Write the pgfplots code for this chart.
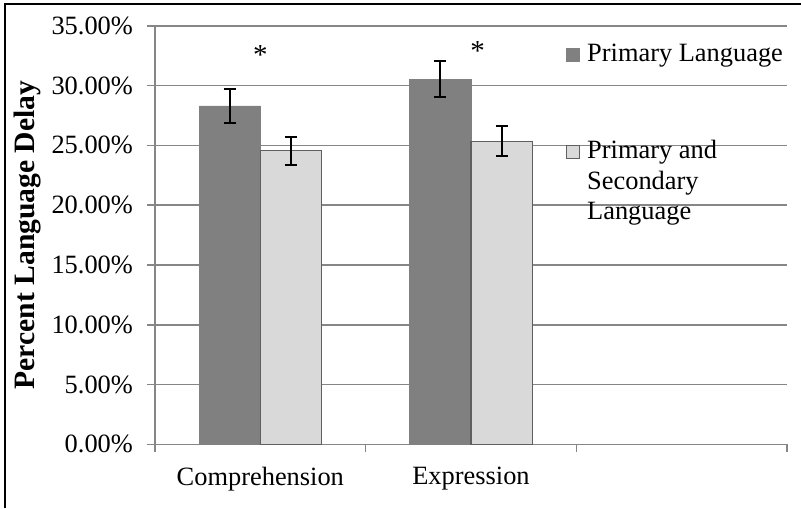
\documentclass[border=0pt]{standalone}
\usepackage{pgfplots}
\pgfplotsset{compat=1.18}
\usepackage{fontspec}
\setmainfont{Liberation Serif}
\definecolor{darkbar}{HTML}{808080}
\definecolor{lightbar}{HTML}{D9D9D9}
\definecolor{lightedge}{HTML}{5F5F5F}
\definecolor{gridgray}{HTML}{868686}
\begin{document}
\begin{tikzpicture}
\begin{axis}[
  name=a,
  scale only axis,
  width=316pt, height=209.3pt,
  xmin=-0.5, xmax=2.5, ymin=0, ymax=35,
  axis lines*=left,
  axis line style={gridgray, line width=0.8pt},
  ybar, bar width=0.291,
  xtick={-0.5,0.5,1.5,2.5}, xticklabels={},
  extra x ticks={0,1}, extra x tick labels={Comprehension,Expression},
  extra x tick style={major tick length=0pt, xticklabel style={yshift=-8pt}},
  ytick={0,5,...,35},
  yticklabel={\pgfmathprintnumber[fixed,fixed zerofill,precision=2]{\tick}\%},
  yticklabel style={xshift=-3.5pt},
  /pgf/number format/assume math mode=true,
  ymajorgrids, grid style={gridgray, line width=0.8pt},
  tick align=outside, major tick length=4pt,
  tick style={gridgray, line width=0.8pt},
  font=\fontsize{13.2}{15.3}\selectfont,
  ticklabel style={font=\fontsize{13.2}{15.3}\selectfont},
  ylabel={Percent Language Delay},
  ylabel style={font=\fontsize{14.8}{17}\selectfont\bfseries, at={(axis description cs:-0.2025,0.5)}, anchor=center},
  legend style={at={(0.6503,0.957)}, anchor=north west, draw=none, fill=none,
    inner sep=0pt, outer sep=0pt, row sep=35.2pt, column sep=3.5pt,
    nodes={inner sep=0pt, text depth=}, cells={anchor=base west},
    font=\fontsize{13.2}{15.3}\selectfont},
  clip=false,
]
\addplot[fill=darkbar, draw=darkbar, bar shift=-0.1455,
  legend image code/.code={\draw[fill=darkbar, draw=darkbar, line width=0.6pt] (0pt,0pt) rectangle (6.5pt,6.5pt);},
  error bars/.cd, y dir=both, y explicit,
  error bar style={black, line width=1pt},
  error mark options={black, rotate=90, mark size=3pt, line width=1pt}]
  coordinates {(0,28.29) +- (0,1.40) (1,30.54) +- (0,1.53)};
\addlegendentry{Primary Language}
\addplot[fill=lightbar, draw=lightedge, line width=0.8pt, bar shift=0.1455,
  legend image code/.code={\draw[fill=lightbar, draw=lightedge, line width=0.6pt] (0pt,0pt) rectangle (6.5pt,6.5pt);},
  error bars/.cd, y dir=both, y explicit,
  error bar style={black, line width=1pt},
  error mark options={black, rotate=90, mark size=3pt, line width=1pt}]
  coordinates {(0,24.55) +- (0,1.18) (1,25.33) +- (0,1.25)};
\addlegendentry{\begin{tabular}[t]{@{}l@{}}Primary and\\Secondary\\Language\end{tabular}}
\node[anchor=base, inner sep=0pt, font=\fontsize{14.5}{15.3}\selectfont] at (axis cs:0,31.79) {*};
\node[anchor=base, inner sep=0pt, font=\fontsize{14.5}{15.3}\selectfont] at (axis cs:1.0316,32.10) {*};
\end{axis}
\pgfresetboundingbox
\path[use as bounding box] ([shift={(-77.5pt,-31.85pt)}]a.south west) rectangle ([shift={(7pt,12.85pt)}]a.north east);
\draw[black, line width=1pt] ([shift={(-74.75pt,-31.85pt)}]a.south west) -- ([shift={(-74.75pt,10.6pt)}]a.north west) -- ([shift={(7pt,10.6pt)}]a.north east);
\end{tikzpicture}
\end{document}
